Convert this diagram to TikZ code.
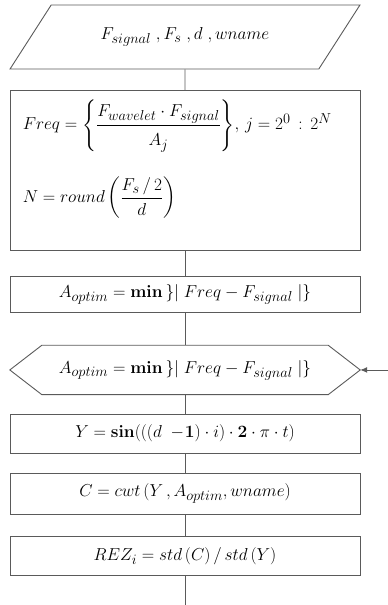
\documentclass[tikz,border=0pt]{standalone}
\usepackage{amsmath,amssymb}
\usepackage{xcolor}
\usepackage{tikz}
\usetikzlibrary{shapes.geometric,arrows.meta,positioning,calc}
\DeclareMathSizes{17.28}{17.28}{14.4}{12}
\definecolor{cLine}{HTML}{5A5A5A}
\newcommand{\fsz}{\fontsize{17.28}{20}\selectfont}
\tikzset{
  node distance=20pt,
  io/.style     ={trapezium, trapezium left angle=36, trapezium right angle=144,
                  trapezium stretches=true, draw=cLine, line width=0.9pt,
                  minimum width=350pt, minimum height=64pt, inner sep=0pt, font=\fsz},
  proc/.style   ={rectangle, draw=cLine, line width=0.9pt, minimum width=350pt,
                  align=center, font=\fsz, inner sep=2pt},
  loopbox/.style={rectangle, minimum width=350pt, minimum height=49pt,
                  inner sep=0pt, font=\fsz},
  fl/.style     ={draw=cLine, line width=0.9pt},
  ar/.style     ={-{Latex[length=7pt,width=6pt]}, draw=cLine, line width=0.9pt},
}

\begin{document}
\begin{tikzpicture}
  \useasboundingbox (0pt,0pt) rectangle (388pt,-605pt);
  \node[io] (inp) at (185pt,-37pt) {$F_{signal}\;,F_s\;,d\;,wname$};
  \node[proc,below=21pt of inp,minimum height=160pt] (frq) {};
  \node[anchor=north west,align=left,font=\fsz,inner sep=0pt] (frqtxt)
    at ([xshift=13pt,yshift=-9pt]frq.north west)
    {$Freq=\left\{\dfrac{\rule[-6pt]{0pt}{18pt}F_{wavelet}\cdot F_{signal}}{\rule{0pt}{18pt}A_j}\right\}\!,\,
      j=2^0\,:\,2^N$\\[24pt]
     $N=round\left(\dfrac{\rule[-3pt]{0pt}{15pt}F_s\,/\,2}{\rule{0pt}{15pt}d}\right)$};
  \node[proc,below=25pt of frq,minimum height=36pt] (aopt)
    {$A_{optim}=\mathbf{min}\,\}\lvert\; Freq-F_{signal}\;\rvert\}$};
  \node[loopbox,below=32pt of aopt] (aloop)
    {$A_{optim}=\mathbf{min}\,\}\lvert\; Freq-F_{signal}\;\rvert\}$};
  % hexagon round the loop node
  \draw[fl] (aloop.west) -- ([xshift=32pt]aloop.north west) -- ([xshift=-32pt]aloop.north east)
    -- (aloop.east) -- ([xshift=-32pt]aloop.south east) -- ([xshift=32pt]aloop.south west) -- cycle;
  \node[proc,below=19pt of aloop,minimum height=39pt] (ysig)
    {$Y=\mathbf{sin}(((d\;-\!\mathbf{1})\cdot i)\cdot\mathbf{2}\cdot\pi\cdot t)$};
  \node[proc,below=19pt of ysig,minimum height=41pt] (cwt)
    {$C=cwt\,(Y\,,A_{optim},wname)$};
  \node[proc,below=22pt of cwt,minimum height=39pt] (rez)
    {$REZ_i=std\,(C)\,/\,std\,(Y)$};
  \coordinate[right=28pt of aloop.east] (back);
  \coordinate[below=34pt of rez] (tail);
  \draw[fl](inp)--(frq);\draw[fl](frq)--(aopt);\draw[fl](aopt)--(aloop);
  \draw[fl](aloop)--(ysig);\draw[fl](ysig)--(cwt);\draw[fl](cwt)--(rez);
  \draw[fl](rez)--(tail);
  \draw[ar](back)--(aloop.east);
\end{tikzpicture}
\end{document}
